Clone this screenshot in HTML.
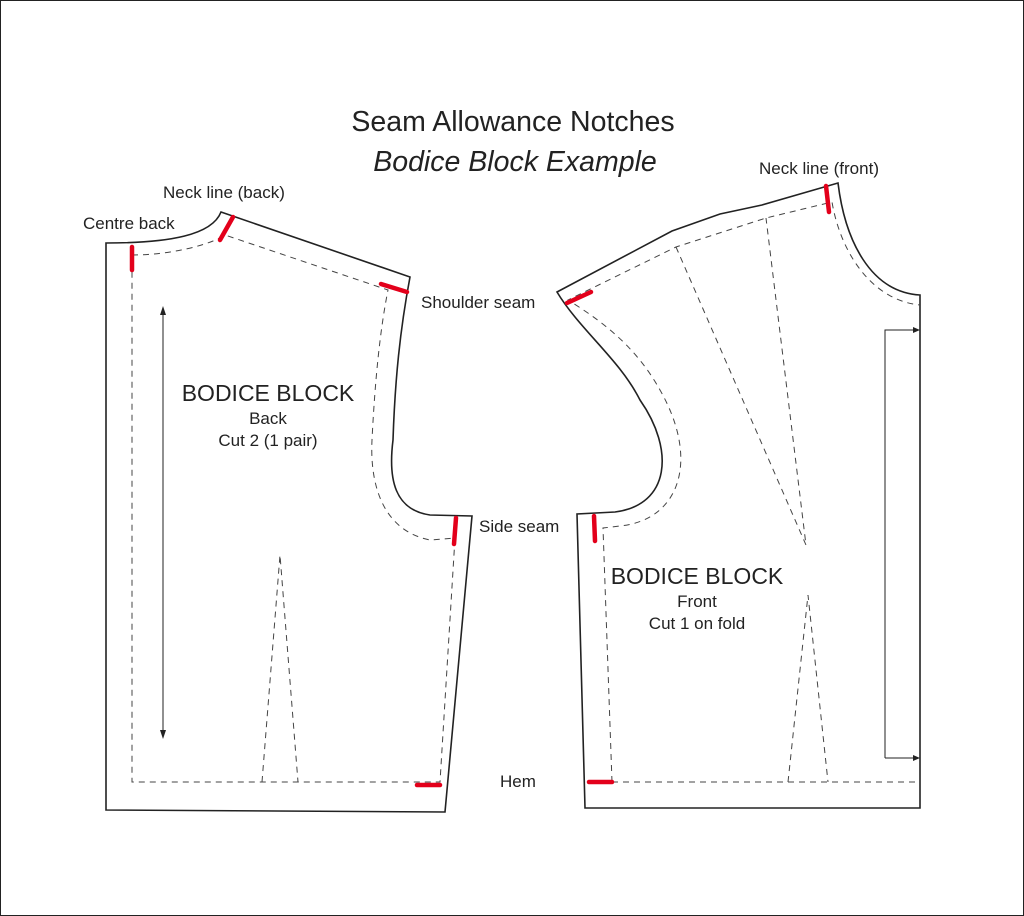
<!DOCTYPE html>
<html><head><style>
html,body{margin:0;padding:0;background:#fff}
svg{display:block}
text{font-family:"Liberation Sans",sans-serif;fill:#222}
</style></head><body>
<svg width="1024" height="916" viewBox="0 0 1024 916">
<rect x="0.5" y="0.5" width="1023" height="915" fill="#fff" stroke="#222"/>
<text x="513" y="131" font-size="28.5" text-anchor="middle">Seam Allowance Notches</text>
<text x="515" y="171" font-size="28.5" text-anchor="middle" font-style="italic">Bodice Block Example</text>

<g fill="none" stroke="#222" stroke-width="1.6">
<path d="M106,243 L106,810 L445,812 L472,516 L430,515 C395,510 388,480 393,440 C395,380 400,330 410,277 L221,212 C212,235 170,243 106,243 Z"/>
<path d="M557,292 L672,231 L720,214 L762,205 L838,183 C845,240 870,292 920,295 L920,808 L585,808 L577,514 L615,512 C670,505 675,450 640,400 C620,360 580,330 557,292 Z"/>
</g>
<g fill="none" stroke="#444" stroke-width="1" stroke-dasharray="6,5">
<path d="M132,255 C170,255 210,245 225,235 L388,290 C380,330 375,380 372,440 C370,480 380,530 430,540 L455,538 L440,782 L132,782 Z"/>
<path d="M262,782 L280,555 L298,782"/>
<path d="M612,782 L603,528 L620,526 C680,520 700,460 660,390 C635,345 600,320 568,300 L676,247 L766,218 L832,202 C840,250 870,300 920,305"/>
<path d="M612,782 L920,782"/>
<path d="M676,247 L806,545 L766,218"/>
<path d="M788,782 L808,595 L828,782"/>
</g>
<g stroke="#222" stroke-width="1">
<line x1="163" y1="312" x2="163" y2="733"/>
<path d="M885,758 L885,330 L918,330 M885,758 L918,758" fill="none"/>
</g>
<path d="M163,306 L160,315 L166,315 Z M163,739 L160,730 L166,730 Z M920,330 L913,327 L913,333 Z M920,758 L913,755 L913,761 Z" fill="#222"/>
<g stroke="#e3001b" stroke-width="4.5" stroke-linecap="round">
<line x1="132" y1="247" x2="132" y2="270"/>
<line x1="233" y1="217" x2="220" y2="240"/>
<line x1="381" y1="284" x2="407" y2="292"/>
<line x1="456" y1="518" x2="454" y2="544"/>
<line x1="417" y1="785" x2="440" y2="785"/>
<line x1="826" y1="186" x2="829" y2="212"/>
<line x1="567" y1="303" x2="591" y2="292"/>
<line x1="594" y1="516" x2="595" y2="541"/>
<line x1="589" y1="782" x2="612" y2="782"/>
</g>
<g font-size="17">
<text x="83" y="229">Centre back</text>
<text x="163" y="198">Neck line (back)</text>
<text x="421" y="308">Shoulder seam</text>
<text x="479" y="532">Side seam</text>
<text x="500" y="787">Hem</text>
<text x="759" y="174">Neck line (front)</text>
</g>
<g text-anchor="middle">
<text x="268" y="401" font-size="23">BODICE BLOCK</text>
<text x="268" y="424" font-size="17">Back</text>
<text x="268" y="446" font-size="17">Cut 2 (1 pair)</text>
<text x="697" y="584" font-size="23">BODICE BLOCK</text>
<text x="697" y="607" font-size="17">Front</text>
<text x="697" y="629" font-size="17">Cut 1 on fold</text>
</g>
</svg>
</body></html>
